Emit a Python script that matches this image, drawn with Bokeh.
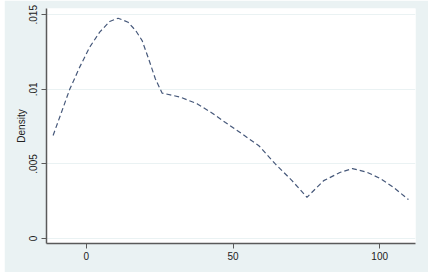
from bokeh.plotting import figure
from bokeh.models import FixedTicker, Range1d
from bokeh.embed import file_html
from bokeh.resources import INLINE

# Kernel density curve
x_vals = [-11.35, -8.52, -5.69, -2.28, 1.13, 4.53, 7.94, 10.81, 14.22, 16.81,
          19.0, 21.2, 23.5, 25.8, 32.0, 37.7, 42.3, 47.4, 53.1, 58.8,
          64.4, 70.1, 75.2, 80.9, 86.6, 90.7, 95.7, 100.2, 104.7, 109.8]
density = [0.00691, 0.00845, 0.01000, 0.01149, 0.01283, 0.01384, 0.01455, 0.01477, 0.0145, 0.01394,
           0.01327, 0.01205, 0.01071, 0.00975, 0.00948, 0.00904, 0.00848, 0.00778, 0.00701, 0.00622,
           0.005, 0.00388, 0.00276, 0.00388, 0.00444, 0.00469, 0.00444, 0.00402, 0.00343, 0.00261]

x_ticks = [0, 50, 100]
x_tick_labels = ["0", "50", "100"]
y_ticks = [0, 0.005, 0.01, 0.015]
y_tick_labels = ["0", ".005", ".01", ".015"]
y_title = "Density"

BG = "#EAF2F3"
FONT = "Liberation Sans"

p = figure(width=424, height=272, output_backend="svg", toolbar_location=None,
           x_range=Range1d(-13.6, 112.2), y_range=Range1d(-0.000335, 0.01542),
           min_border_left=42, min_border_top=8, min_border_right=13, min_border_bottom=29,
           background_fill_color="white", border_fill_color=BG)
p.margin = (0, 8, 3, 4)
p.outline_line_color = None

p.line(x_vals, density, line_color="#46587A", line_width=1.2, line_dash="5 3")

# x axis
xa = p.xaxis[0]
xa.ticker = FixedTicker(ticks=x_ticks)
xa.major_label_overrides = {t: l for t, l in zip(x_ticks, x_tick_labels)}
xa.minor_tick_line_color = None
xa.axis_line_color = "#5A5A5A"
xa.axis_line_width = 1.5
xa.major_tick_line_color = "#5A5A5A"
xa.major_tick_out = 5
xa.major_tick_in = 0
xa.major_label_standoff = 3
xa.major_label_text_font = FONT
xa.major_label_text_font_size = "10px"
xa.major_label_text_color = "#222222"

# y axis
ya = p.yaxis[0]
ya.ticker = FixedTicker(ticks=y_ticks)
ya.major_label_overrides = {t: l for t, l in zip(y_ticks, y_tick_labels)}
ya.major_label_orientation = "vertical"
ya.minor_tick_line_color = None
ya.axis_line_color = "#5A5A5A"
ya.axis_line_width = 1.5
ya.major_tick_line_color = "#5A5A5A"
ya.major_tick_out = 5
ya.major_tick_in = 0
ya.major_label_standoff = 4
ya.major_label_text_font = FONT
ya.major_label_text_font_size = "10px"
ya.major_label_text_color = "#222222"
ya.axis_label = y_title
ya.axis_label_text_font = FONT
ya.axis_label_text_font_size = "10px"
ya.axis_label_text_font_style = "normal"
ya.axis_label_text_color = "#222222"
ya.axis_label_standoff = 0

p.xgrid.grid_line_color = None
p.ygrid.grid_line_color = BG
p.ygrid.grid_line_width = 1
p.ygrid.ticker = FixedTicker(ticks=y_ticks)

open("out.html", "w").write(file_html(p, INLINE))
